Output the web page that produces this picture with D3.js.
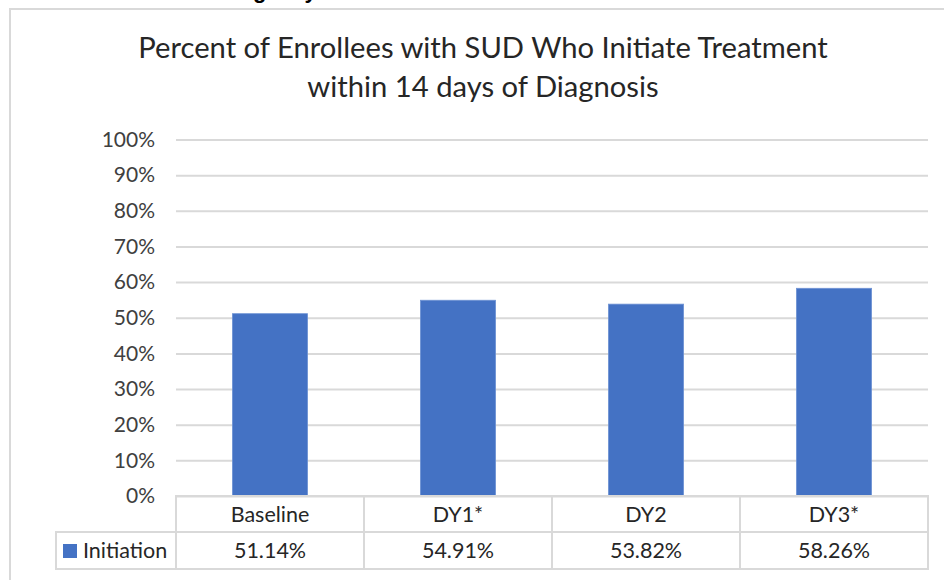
<!DOCTYPE html>
<html>
<head>
<meta charset="utf-8">
<script src="https://cdn.jsdelivr.net/npm/d3@7"></script>
<style>
	body { margin: 0; background: #fff; }
	svg { display: block; font-family: Lato, "Open Sans", sans-serif; }
</style>
</head>
<body>
<svg id="chart" width="944" height="580"></svg>
<script>
// data
var categories = ["Baseline", "DY1*", "DY2", "DY3*"];
var initiation = [0.5114, 0.5491, 0.5382, 0.5826];
var seriesName = "Initiation";
var yTicks = [0, 0.1, 0.2, 0.3, 0.4, 0.5, 0.6, 0.7, 0.8, 0.9, 1];
var titleLines = ["Percent of Enrollees with SUD Who Initiate Treatment",
	"within 14 days of Diagnosis"];

var svg = d3.select("#chart");

var font = "Lato, 'Open Sans', sans-serif";
var grid = "#d9d9d9";
var barColor = "#4472c4";

// heading of the page above, cut off by the screenshot
svg.append("text")
	.attr("x", 198)
	.attr("y", -2)
	.attr("font-family", "Liberation Sans, Arial, sans-serif")
	.attr("font-weight", "bold")
	.attr("font-size", 22)
	.attr("fill", "#000")
	.text("Emergency");

// chart frame
svg.append("rect")
	.attr("x", 10)
	.attr("y", 9)
	.attr("width", 980)
	.attr("height", 620)
	.attr("fill", "none")
	.attr("stroke", grid)
	.attr("stroke-width", 2);

var x = d3.scaleBand()
	.domain(categories)
	.range([176, 928])
	.padding(0);

var y = d3.scaleLinear()
	.domain([0, 1])
	.range([496, 139.5]);

svg.selectAll(".title")
	.data(titleLines)
	.enter()
	.append("text")
	.attr("class", "title")
	.attr("x", 483)
	.attr("y", (d, i) => 58 + i * 39)
	.attr("text-anchor", "middle")
	.attr("font-size", 29.2)
	.attr("fill", "#262626")
	.text(d => d);

// gridlines and y axis labels
var yAxis = svg.append("g")
	.attr("transform", "translate(176,0)")
	.call(d3.axisLeft(y)
		.tickValues(yTicks)
		.tickSize(-(928 - 176))
		.tickPadding(21)
		.tickFormat(d3.format(".0%")))
	.attr("font-family", font);

yAxis.select(".domain").remove();
yAxis.selectAll(".tick line")
	.attr("stroke", grid)
	.attr("stroke-width", 2);
yAxis.selectAll(".tick text")
	.attr("font-size", 21)
	.attr("fill", "#404040");

// bars
svg.selectAll(".bar")
	.data(categories)
	.enter()
	.append("rect")
	.attr("class", "bar")
	.attr("x", d => x(d) + x.bandwidth() * 0.3)
	.attr("width", x.bandwidth() * 0.4)
	.attr("y", (d, i) => y(initiation[i]))
	.attr("height", (d, i) => y(0) - y(initiation[i]))
	.attr("fill", barColor)
	.attr("stroke", "#6f93d4")
	.attr("stroke-width", 0.8);

// data table under the axis
var row1 = [496, 532];
var row2 = [532, 569];
var table = svg.append("g")
	.attr("fill", "none")
	.attr("stroke", grid)
	.attr("stroke-width", 2);

table.append("rect")
	.attr("x", x.range()[0])
	.attr("y", row1[0])
	.attr("width", x.range()[1] - x.range()[0])
	.attr("height", row1[1] - row1[0]);

table.append("rect")
	.attr("x", 56)
	.attr("y", row2[0])
	.attr("width", x.range()[1] - 56)
	.attr("height", row2[1] - row2[0]);

table.selectAll(".divider")
	.data(categories)
	.enter()
	.append("line")
	.attr("x1", d => x(d))
	.attr("x2", d => x(d))
	.attr("y1", row1[0])
	.attr("y2", row2[1]);

svg.selectAll(".cat")
	.data(categories)
	.enter()
	.append("text")
	.attr("class", "cat")
	.attr("x", d => x(d) + x.bandwidth() / 2)
	.attr("y", (row1[0] + row1[1]) / 2)
	.attr("dy", "0.35em")
	.attr("text-anchor", "middle")
	.attr("font-size", 21.5)
	.attr("fill", "#262626")
	.text(d => d);

svg.selectAll(".val")
	.data(categories)
	.enter()
	.append("text")
	.attr("class", "val")
	.attr("x", d => x(d) + x.bandwidth() / 2)
	.attr("y", (row2[0] + row2[1]) / 2)
	.attr("dy", "0.35em")
	.attr("text-anchor", "middle")
	.attr("font-size", 21.5)
	.attr("fill", "#262626")
	.text((d, i) => d3.format(".2%")(initiation[i]));

// legend key in the table
svg.append("rect")
	.attr("x", 63)
	.attr("y", 544)
	.attr("width", 14)
	.attr("height", 14)
	.attr("fill", barColor);

svg.append("text")
	.attr("x", 83)
	.attr("y", (row2[0] + row2[1]) / 2)
	.attr("dy", "0.35em")
	.attr("font-size", 21.5)
	.attr("fill", "#262626")
	.text(seriesName);
</script>
</body>
</html>
